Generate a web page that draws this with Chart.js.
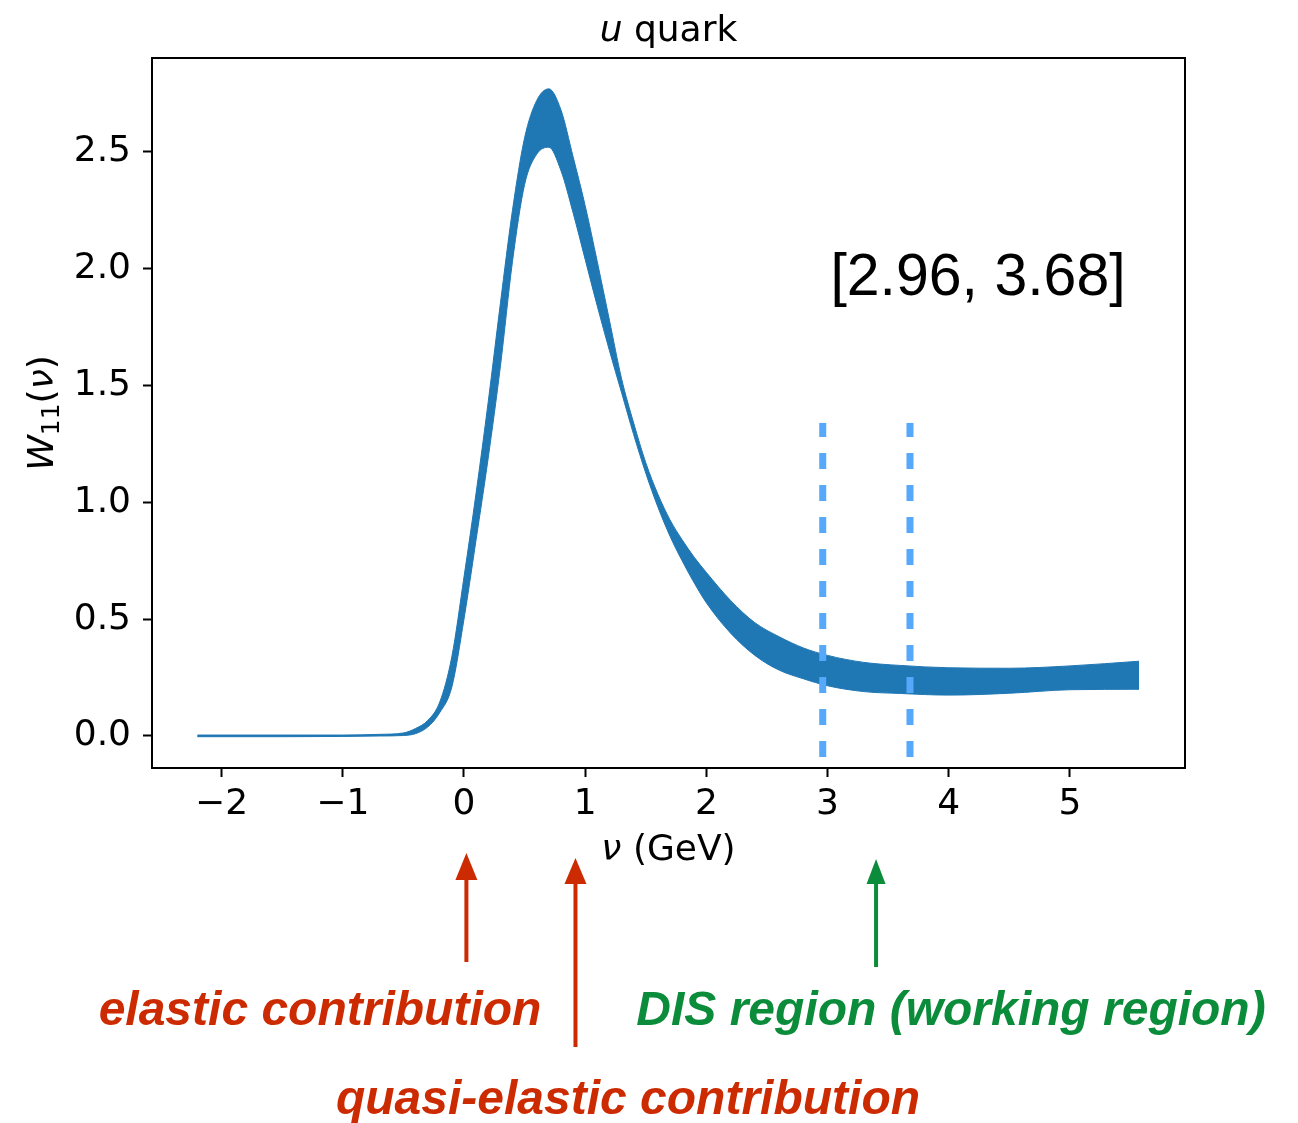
<!DOCTYPE html>
<html lang="en">
<head>
  <meta charset="utf-8">
  <title>W11 - u quark</title>
  <script src="https://cdn.jsdelivr.net/npm/chart.js"></script>
  <style>
    body { margin: 0; background: #fff; }
    canvas { display: block; }
  </style>
</head>
<body>
<canvas id="w11Chart" width="1298" height="1123"></canvas>

<script>
  // nu grid (GeV) with the upper / lower edges of the W11 band
  const nu = [-2.2, -1.5, -1.0, -0.7, -0.5, -0.4, -0.3, -0.2, -0.1, 0.0, 0.1, 0.2, 0.3, 0.4, 0.5, 0.6, 0.7,
              0.8, 0.9, 1.0, 1.1, 1.2, 1.3, 1.4, 1.5, 1.6, 1.7, 1.8, 1.9, 2.0, 2.2, 2.4, 2.6, 2.8, 3.0, 3.3, 3.6, 4.0, 4.5, 5.0, 5.57];
  const w11Upper = [0.004, 0.004, 0.004, 0.007, 0.013, 0.032, 0.066, 0.145, 0.34, 0.68, 1.04, 1.43, 1.85, 2.25, 2.56, 2.72, 2.77,
                    2.68, 2.48, 2.27, 2.03, 1.78, 1.53, 1.34, 1.17, 1.035, 0.925, 0.84, 0.765, 0.70, 0.58, 0.485, 0.425, 0.377, 0.345, 0.315, 0.302, 0.292, 0.29, 0.30, 0.32];
  const w11Lower = [-0.003, -0.003, -0.002, 0.0, 0.002, 0.010, 0.038, 0.10, 0.21, 0.50, 0.84, 1.19, 1.58, 2.03, 2.36, 2.49, 2.52,
                    2.42, 2.24, 2.04, 1.84, 1.65, 1.47, 1.29, 1.125, 0.98, 0.855, 0.75, 0.655, 0.57, 0.44, 0.345, 0.282, 0.245, 0.215, 0.19, 0.182, 0.175, 0.183, 0.198, 0.20];

  // working window edges (dashed lines) and their vertical extent
  const windowEdges = [2.96, 3.68];
  const windowLineRange = [-0.09, 1.34];

  const xTickValues = [-2, -1, 0, 1, 2, 3, 4, 5];
  const yTickValues = [0.0, 0.5, 1.0, 1.5, 2.0, 2.5];

  // annotation arrows below the axis
  const arrowNu = [0.02, 0.92, 3.4];
  const arrowLabels = ['elastic contribution', 'quasi-elastic contribution', 'DIS region (working region)'];

  const BAND = '#1f77b4';
  const DASH = '#55a8fa';
  const RED = '#cc2a00';
  const GREEN = '#0b8c3a';

  const toPoints = ys => nu.map((v, i) => ({x: v, y: ys[i]}));

  function drawRuns(ctx, runs, cx, y) {
    let total = 0;
    runs.forEach(r => { ctx.font = r.font; r.w = ctx.measureText(r.text).width; total += r.w; });
    let x = cx - total / 2;
    runs.forEach(r => {
      ctx.font = r.font;
      ctx.fillText(r.text, x, y + (r.dy || 0));
      x += r.w;
    });
  }

  function drawArrow(ctx, x, tipY, tailY, headLen, headW, color) {
    ctx.strokeStyle = color;
    ctx.fillStyle = color;
    ctx.lineWidth = 4;
    ctx.beginPath();
    ctx.moveTo(x, tailY);
    ctx.lineTo(x, tipY + headLen - 1);
    ctx.stroke();
    ctx.beginPath();
    ctx.moveTo(x, tipY);
    ctx.lineTo(x - headW / 2, tipY + headLen);
    ctx.lineTo(x + headW / 2, tipY + headLen);
    ctx.closePath();
    ctx.fill();
  }

  const M = '36px "DejaVu Sans"';
  const MI = 'italic 36px "DejaVu Sans"';

  const annotate = {
    id: 'annotate',
    afterDraw(chart) {
      const {ctx, chartArea: a, scales: {x}} = chart;
      ctx.save();

      // top and right spines
      ctx.strokeStyle = '#000';
      ctx.lineWidth = 2;
      ctx.strokeRect(a.left, a.top, a.right - a.left, a.bottom - a.top);

      ctx.fillStyle = '#000';
      ctx.textAlign = 'left';
      ctx.textBaseline = 'alphabetic';

      // title
      drawRuns(ctx, [{text: 'u', font: MI}, {text: ' quark', font: M}], (a.left + a.right) / 2, 41);

      // x axis label
      drawRuns(ctx, [{text: '\u03bd', font: MI}, {text: ' (GeV)', font: M}], (a.left + a.right) / 2, 860);

      // y axis label, rotated
      ctx.save();
      ctx.translate(53, (a.top + a.bottom) / 2);
      ctx.rotate(-Math.PI / 2);
      drawRuns(ctx, [
        {text: 'W', font: MI},
        {text: '11', font: '25px "DejaVu Sans"', dy: 6},
        {text: '(', font: M},
        {text: '\u03bd', font: MI},
        {text: ')', font: M}
      ], 0, 0);
      ctx.restore();

      // window label
      ctx.font = '59px "Liberation Sans"';
      ctx.textAlign = 'center';
      ctx.fillText('[' + windowEdges.map(v => v.toFixed(2)).join(', ') + ']', 978, 295);

      // arrows and region labels
      drawArrow(ctx, x.getPixelForValue(arrowNu[0]), 853, 962, 27, 22, RED);
      drawArrow(ctx, x.getPixelForValue(arrowNu[1]), 858, 1047, 26, 22, RED);
      drawArrow(ctx, x.getPixelForValue(arrowNu[2]), 859, 967, 25, 19, GREEN);

      ctx.font = 'italic bold 48px "Liberation Sans"';
      ctx.fillStyle = RED;
      ctx.fillText(arrowLabels[0], 320, 1025);
      ctx.fillText(arrowLabels[1], 628, 1114);
      ctx.fillStyle = GREEN;
      ctx.fillText(arrowLabels[2], 951, 1025);

      ctx.restore();
    }
  };

  const ctx = document.getElementById('w11Chart').getContext('2d');
  new Chart(ctx, {
    type: 'line',
    data: {
      datasets: [
        {
          data: toPoints(w11Lower),
          borderColor: BAND,
          backgroundColor: BAND,
          borderWidth: 1,
          pointRadius: 0,
          cubicInterpolationMode: 'monotone',
          fill: false,
          order: 2
        },
        {
          data: toPoints(w11Upper),
          borderColor: BAND,
          backgroundColor: BAND,
          borderWidth: 1,
          pointRadius: 0,
          cubicInterpolationMode: 'monotone',
          fill: '-1',
          order: 2
        },
        ...windowEdges.map(v => ({
          data: windowLineRange.map(y => ({x: v, y: y})),
          borderColor: DASH,
          borderWidth: 7,
          borderDash: [16, 16],
          borderCapStyle: 'butt',
          pointRadius: 0,
          fill: false,
          order: 1
        }))
      ]
    },
    options: {
      responsive: false,
      animation: false,
      events: [],
      layout: {padding: {left: 0, top: 58, right: 113, bottom: 0}},
      scales: {
        x: {
          type: 'linear',
          min: -2.574,
          max: 5.949,
          afterBuildTicks: axis => { axis.ticks = xTickValues.map(v => ({value: v})); },
          afterFit: axis => { axis.height = 1123 - 768; },
          grid: {drawOnChartArea: false, tickLength: 9, tickWidth: 2, tickColor: '#000'},
          border: {color: '#000', width: 2},
          ticks: {
            color: '#000',
            padding: 6,
            maxRotation: 0,
            font: {family: 'DejaVu Sans', size: 36},
            callback: v => (v < 0 ? '\u2212' + Math.abs(v) : String(v))
          }
        },
        y: {
          type: 'linear',
          min: -0.137,
          max: 2.902,
          afterBuildTicks: axis => { axis.ticks = yTickValues.map(v => ({value: v})); },
          afterFit: axis => { axis.width = 152; },
          grid: {drawOnChartArea: false, tickLength: 9, tickWidth: 2, tickColor: '#000'},
          border: {color: '#000', width: 2},
          ticks: {
            color: '#000',
            padding: 12,
            font: {family: 'DejaVu Sans', size: 36},
            callback: v => v.toFixed(1)
          }
        }
      },
      plugins: {
        legend: {display: false},
        tooltip: {enabled: false}
      }
    },
    plugins: [annotate]
  });
</script>

</body>
</html>
